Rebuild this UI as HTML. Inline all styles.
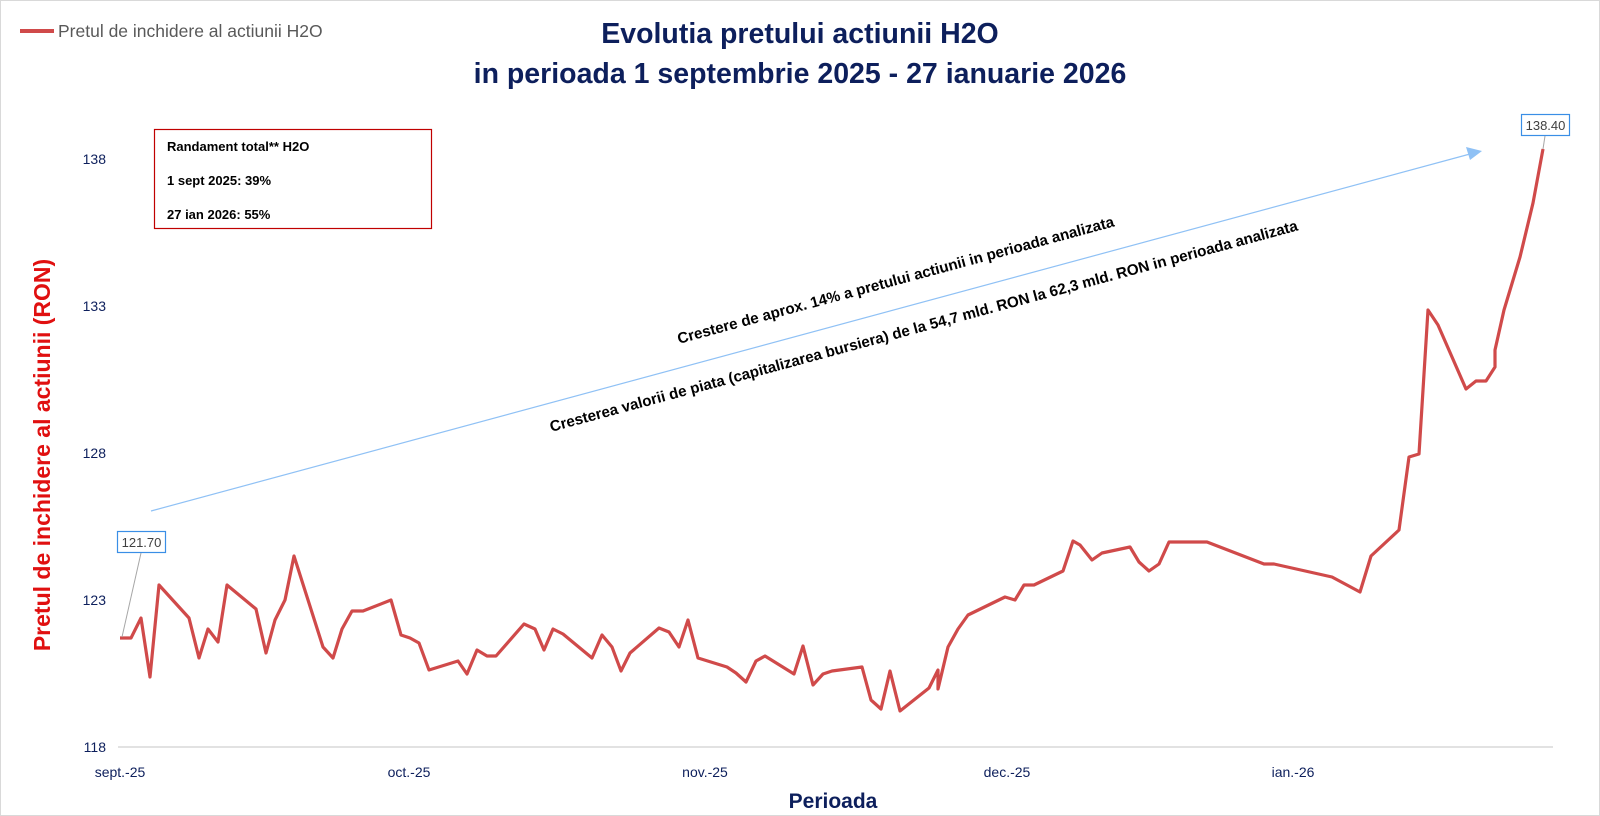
<!DOCTYPE html>
<html><head><meta charset="utf-8"><style>
body{margin:0;background:#fff;}
svg{display:block;font-family:"Liberation Sans",sans-serif;}
</style></head><body>
<svg width="1600" height="816" viewBox="0 0 1600 816" xmlns="http://www.w3.org/2000/svg">
<rect x="0.5" y="0.5" width="1599" height="815" fill="#fff" stroke="#d9d9d9"/>
<!-- legend -->
<line x1="20" y1="31" x2="54" y2="31" stroke="#d04a4a" stroke-width="4"/>
<text x="58" y="37" font-size="17.5" fill="#595959">Pretul de inchidere al actiunii H2O</text>
<!-- title -->
<text x="800" y="43" font-size="28.5" font-weight="bold" fill="#0d1f5c" text-anchor="middle">Evolutia pretului actiunii H2O</text>
<text x="800" y="83" font-size="28.5" font-weight="bold" fill="#0d1f5c" text-anchor="middle">in perioada 1 septembrie 2025 - 27 ianuarie 2026</text>
<!-- box -->
<rect x="154.5" y="129.5" width="277" height="99" fill="#fff" stroke="#c00000" stroke-width="1.2"/>
<text x="167" y="151" font-size="13" font-weight="bold" fill="#000">Randament total** H2O</text>
<text x="167" y="185" font-size="13" font-weight="bold" fill="#000">1 sept 2025: 39%</text>
<text x="167" y="219" font-size="13" font-weight="bold" fill="#000">27 ian 2026: 55%</text>
<!-- y axis -->
<g font-size="14" fill="#0d1f5c" text-anchor="end">
<text x="106" y="752">118</text>
<text x="106" y="605">123</text>
<text x="106" y="458">128</text>
<text x="106" y="311">133</text>
<text x="106" y="164">138</text>
</g>
<line x1="118" y1="747" x2="1553" y2="747" stroke="#d9d9d9" stroke-width="1.5"/>
<g font-size="14" fill="#0d1f5c" text-anchor="middle">
<text x="120" y="777">sept.-25</text>
<text x="409" y="777">oct.-25</text>
<text x="705" y="777">nov.-25</text>
<text x="1007" y="777">dec.-25</text>
<text x="1293" y="777">ian.-26</text>
</g>
<text x="833" y="808" font-size="21" font-weight="bold" fill="#0d1f5c" text-anchor="middle">Perioada</text>
<text transform="translate(50,455) rotate(-90)" font-size="23" font-weight="bold" fill="#e01010" text-anchor="middle">Pretul de inchidere al actiunii (RON)</text>
<!-- arrow -->
<line x1="151" y1="511" x2="1470" y2="154" stroke="#8fc1f5" stroke-width="1.2"/>
<polygon points="1482,151 1466,147 1470,160" fill="#8fc1f5"/>
<g transform="translate(897,285) rotate(-15.1)"><text x="0" y="0" font-size="15.2" font-weight="bold" fill="#000" text-anchor="middle">Crestere de aprox. 14% a pretului actiunii in perioada analizata</text></g>
<g transform="translate(925,331) rotate(-15.1)"><text x="0" y="0" font-size="15.2" font-weight="bold" fill="#000" text-anchor="middle">Cresterea valorii de piata (capitalizarea bursiera) de la 54,7 mld.  RON la 62,3 mld. RON in perioada analizata</text></g>
<!-- series -->
<polyline fill="none" stroke="#d04a4a" stroke-width="3.2" stroke-linejoin="round" points="
120,638 131,638 141,618 150,677 159,585 189,618 199,658 208,629 218,642 227,585 256,609 266,653 275,620 285,600 294,556 323,647 333,658 342,629 352,611 363,611 391,600 401,635 410,638 419,643 429,670 458,661 467,674 477,650 487,656 496,656 524,624 535,629 544,650 553,629 563,634 592,658 602,635 612,647 621,671 630,653 659,628 669,632 679,647 688,620 698,658 727,667 736,673 746,682 756,661 765,656 794,674 803,646 813,685 823,674 832,671 862,667 871,700 881,709 890,671 900,711 929,688 938,670 938,689 948,647 958,629 968,615 1005,597 1015,600 1024,585 1034,585 1063,571 1073,541 1080,545 1092,560 1102,553 1130,547 1139,562 1149,571 1159,564 1169,542 1207,542 1264,564 1274,564 1332,577 1360,592 1371,556 1399,530 1409,457 1419,454 1428,310 1438,325 1466,389 1476,381 1486,381 1495,367 1495,350 1504,310 1520,257 1533,203 1543,149"/>
<!-- data labels -->
<line x1="141" y1="553" x2="122" y2="637" stroke="#a6a6a6" stroke-width="1"/>
<rect x="117.5" y="531.5" width="48" height="21" fill="#fff" stroke="#3a8ee6" stroke-width="1.2"/>
<text x="141.5" y="547" font-size="13" fill="#404040" text-anchor="middle">121.70</text>
<line x1="1545" y1="136" x2="1543" y2="149" stroke="#a6a6a6" stroke-width="1"/>
<rect x="1521.5" y="114.5" width="48" height="21" fill="#fff" stroke="#3a8ee6" stroke-width="1.2"/>
<text x="1545.5" y="130" font-size="13" fill="#404040" text-anchor="middle">138.40</text>
</svg>
</body></html>
